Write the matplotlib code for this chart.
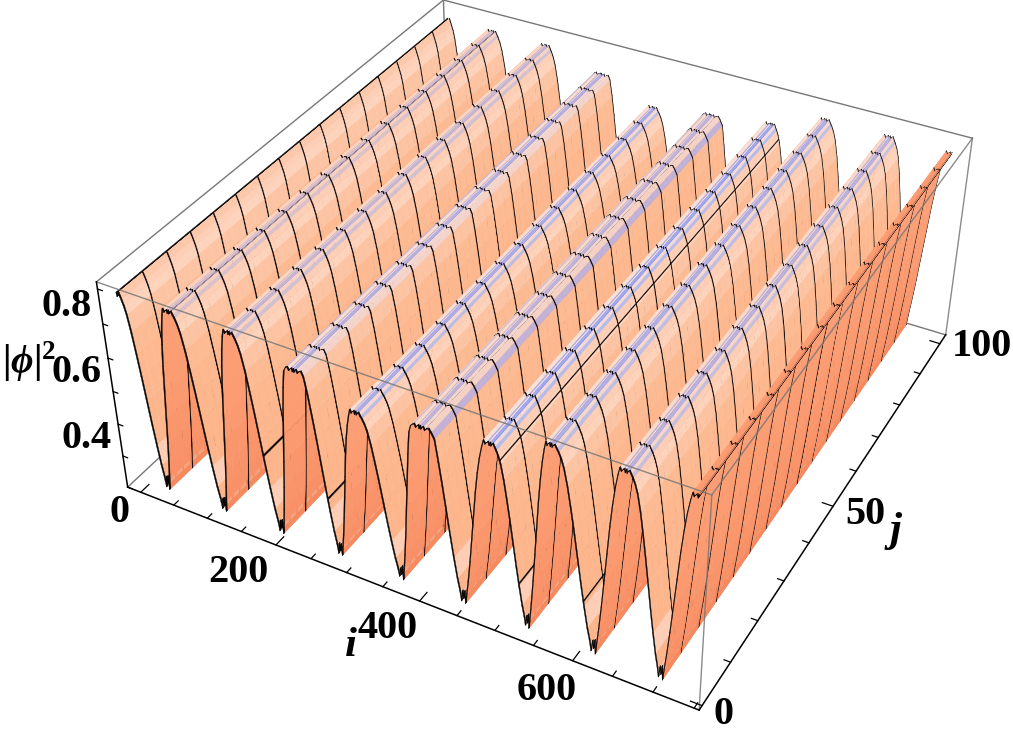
import numpy as np
import matplotlib
matplotlib.use("Agg")
import matplotlib.pyplot as plt
from matplotlib.colors import to_rgb
from mpl_toolkits.mplot3d import Axes3D

W, H = 1013, 739

# surface: ridges along j
peak_i = [0, 73, 157, 242, 322, 406, 494, 568, 656, 739]
valley_i = [38, 122, 205, 288, 372, 455, 538, 622, 705]
peak_z = [.895, .893, .893, .850, .790, .815, .837, .893, .893, .893]
ridge_flat = [1, 1, 1, 1, 0, 1, 0, 1, 1, 1]
valley_z = .345
fall_f = [0, .024, .05, .08, .12, .16, .22, .28, .36, .44, .52, .60, .68, .76, .84, .90, .94, .97]
fall_z = [.895, .883, .892, .891, .886, .876, .860, .837, .790, .730, .665, .595, .525, .460, .400, .365, .335, .368]
rise_g = [0, .03, .06, .10, .16, .24, .32, .40, .48, .56, .64, .72, .78, .84, .89, .94, .97]
rise_z = [.345, .372, .330, .365, .410, .480, .560, .640, .720, .785, .835, .872, .890, .888, .891, .885, .891]
crest_notch = [0, .009, .003]

stripe_colors = ['#a8a8ea', '#f4e6e6', '#7f96ee', '#f3dcd8', '#b4bcf0', '#f8e2d8', '#f1d6d2']
fall_colors = ['#fdc8aa', '#fdc8aa', '#fdc8aa', '#fdc8aa', '#fdc8aa', '#fdcfb6', '#fdd3bc', '#fdc4a4', '#fdbb94',
               '#fdb88f', '#fdb78e', '#fdb68c', '#fdb68c', '#fdcdb6', '#fcb48a', '#fbb188', '#f5c0a8', '#f3c8b0']
rise_colors = ['#f7a27c', '#f58a60', '#f78e64', '#f89068', '#f9946a', '#fa966c', '#fb9a70', '#fb9c72', '#fb9e74',
               '#fb9e76', '#fb9e76', '#fb9e76', '#fb9c72', '#fb9a70', '#fb9a70', '#fb9a70', '#fb9a70']
ridge_stripe = [0.0, 0.5, 0.6, 0.8, 0.9, 0.7, 1.0, 0.85, 0.75, 0.0]

mesh_j = [6.25, 12.5, 18.75, 25, 31.25, 37.5, 43.75, 50, 56.25, 62.5, 68.75, 75, 81.25, 87.5, 93.75]
mesh_i = [0.5, 76, 188, 275, 413, 505, 527, 608, 738]
mesh_i_half = [.5, .6, .2, .2, .6, .25, .2, .2, .6]

i_lim = (-20, 756)
j_lim = (-1, 103)
z_lim = (0.30, 0.92)

i_ticks = [0, 50, 100, 150, 200, 250, 300, 350, 400, 450, 500, 550, 600, 650, 700, 750]
j_ticks = [0, 10, 20, 30, 40, 50, 60, 70, 80, 90, 100]
z_ticks = [0.3, 0.4, 0.5, 0.6, 0.7, 0.8, 0.9]

# pixel positions of the box corners, used for the camera
corner_uvw = [(0, 0, 0), (1, 0, 0), (1, 1, 0), (0, 1, 0), (0, 0, 1), (1, 0, 1), (1, 1, 1), (0, 1, 1)]
corner_px = [(128, 487), (699, 710), (946, 335), (449, 186), (96, 282), (712, 495), (972, 138), (444, 0)]


def fit_camera(uvw, px):
    rows = []
    for (u, v, w), (x, y) in zip(uvw, px):
        rows.append([u, v, w, 1, 0, 0, 0, 0, -x*u, -x*v, -x*w, -x])
        rows.append([0, 0, 0, 0, u, v, w, 1, -y*u, -y*v, -y*w, -y])
    P = np.linalg.svd(np.array(rows, float))[2][-1].reshape(3, 4)
    if P[2] @ np.array([0.5, 0.5, 0.5, 1]) < 0:
        P = -P
    return P


def ridge_cell(z, n, k, base, keep_base=False):
    # cells that reach the ridge top get the flat, striped crest
    top = peak_z[n]
    if not ridge_flat[n]:
        z = valley_z + (z - valley_z)*(top - valley_z)/(.895 - valley_z)
    if z > top - .012:
        if keep_base:
            return top - crest_notch[k % 3], np.array(to_rgb(base))
        plain = np.array(to_rgb('#fdc8aa'))
        c = plain + (np.array(to_rgb(stripe_colors[k % len(stripe_colors)])) - plain)*ridge_stripe[n]
        return top - crest_notch[k % 3], c
    return z, np.array(to_rgb(base))


# build the grid
i_grid = []
z_grid = []
cell_rgb = []
for n in range(len(valley_i)):
    p, v, q = peak_i[n], valley_i[n], peak_i[n+1]
    for k, (f, z) in enumerate(zip(fall_f, fall_z)):
        zz, c = ridge_cell(z, n, k, fall_colors[k])
        i_grid.append(p + f*(v - p))
        z_grid.append(zz)
        cell_rgb.append(c)
    for k, (g, z) in enumerate(zip(rise_g, rise_z)):
        zz, c = ridge_cell(z, n + 1, k, rise_colors[k], keep_base=(n + 1 == len(valley_i)))
        i_grid.append(v + g*(q - v))
        z_grid.append(zz)
        cell_rgb.append(c)
i_grid.append(peak_i[-1])
z_grid.append(peak_z[-1])
i_grid = np.array(i_grid)
z_grid = np.array(z_grid)

j_half = 0.16
i_cuts = list(i_grid)
for m, h in zip(mesh_i, mesh_i_half):
    i_cuts += [max(m - h, 0), min(m + h, peak_i[-1])]
i_all = np.array(sorted(set(i_cuts)))
z_all = np.interp(i_all, i_grid, z_grid)
j_marks = [0.15] + mesh_j + [99.85]
j_cuts = sorted(set(list(np.arange(0, 101, 2.0)) + [m - j_half for m in j_marks] + [m + j_half for m in j_marks]))
j_all = np.array([j for j in j_cuts if 0 <= j <= 100])

X, Y = np.meshgrid(i_all, j_all)
Z = np.tile(z_all, (len(j_all), 1))
fc = np.ones((len(j_all), len(i_all), 4))
for a in range(len(i_all) - 1):
    mid = (i_all[a] + i_all[a+1])/2
    fc[:, a, :3] = cell_rgb[min(np.searchsorted(i_grid, mid) - 1, len(cell_rgb) - 1)]
    for m, h in zip(mesh_i, mesh_i_half):
        if abs(mid - m) < h:
            fc[:, a, :3] = (0.05, 0.03, 0.03)
for b in range(len(j_all) - 1):
    mid = (j_all[b] + j_all[b+1])/2
    if min(abs(mid - m) for m in j_marks) < j_half:
        fc[b, :, :3] = (0.03, 0.02, 0.02)

plt.rcParams['font.family'] = ['Liberation Serif', 'DejaVu Serif']
plt.rcParams['mathtext.fontset'] = 'custom'
plt.rcParams['mathtext.rm'] = 'Liberation Serif:bold'
plt.rcParams['mathtext.it'] = 'Liberation Serif:italic:bold'
plt.rcParams['mathtext.bf'] = 'Liberation Serif:bold'

fig = plt.figure(figsize=(W/100, H/100), dpi=100)
side = W/H
ax = fig.add_axes([0, (1 - side)/2, 1, side], projection='3d', computed_zorder=False)
ax.set_axis_off()

ax.plot_surface(X, Y, Z, facecolors=fc, rstride=1, cstride=1, shade=False, linewidth=0.25,
                antialiased=True, zorder=2)

i0, i1 = i_lim
j0, j1 = j_lim
z0, z1 = z_lim
gray = '#777777'
# back edges sit behind the surface
for xs, ys, zs in [((i0, i0), (j1, j1), (z0, z1)), ((i0, i0), (j0, j1), (z0, z0)), ((i0, i1), (j1, j1), (z0, z0)),
                   ((i0, i0), (j0, j1), (z1, z1)), ((i0, i1), (j1, j1), (z1, z1))]:
    ax.plot(xs, ys, zs, color=gray, lw=1.0, zorder=1)
# front edges
for xs, ys, zs in [((i0, i1), (j0, j0), (z1, z1)), ((i1, i1), (j0, j1), (z1, z1)),
                   ((i1, i1), (j0, j0), (z0, z1)), ((i1, i1), (j1, j1), (z0, z1))]:
    ax.plot(xs, ys, zs, color=gray, lw=1.0, alpha=0.85, zorder=3)
# axes with ticks
ax.plot((i0, i1), (j0, j0), (z0, z0), color='k', lw=1.1, zorder=3)
ax.plot((i1, i1), (j0, j1), (z0, z0), color='k', lw=1.1, zorder=3)
ax.plot((i0, i0), (j0, j0), (z0, z1), color='k', lw=1.1, zorder=3)
for t in i_ticks:
    n = 2.2 if t % 200 == 0 else 1.2
    ax.plot((t, t), (j0, j0 + n), (z0, z0), color='k', lw=0.9, zorder=3)
for t in j_ticks:
    n = 14 if t % 50 == 0 else 8
    ax.plot((i1, i1 - n), (t, t), (z0, z0), color='k', lw=0.9, zorder=3)
for t in z_ticks:
    ax.plot((i0, i0 + 7), (j0, j0), (t, t), color='k', lw=0.9, zorder=3)


def label(x, y, s, size=29, **kw):
    fig.text(x/W, 1 - y/H, s, fontsize=size, ha='center', va='center', fontweight='bold', **kw)


label(67, 307, '0.8')
label(77, 373, '0.6')
label(87, 438, '0.4')
label(119, 512, '0')
label(238, 572, '200')
label(388, 628, '400')
label(547, 690, '600')
label(723, 714, '0')
label(865, 514, '50')
label(982, 347, '100')
label(351, 646, 'i', style='italic', size=31)
label(896, 531, 'j', style='italic', size=31)
label(29, 362, r'$\mathbf{|}\phi\mathbf{|}^{2}$', size=28)

# camera from the box corners, in the 2D coordinates of the axes
ax.apply_aspect()
to_view = ax.transData.inverted()
(vx0, vy0), (vx1, vy1) = to_view.transform([(0, H), (W, 0)])
pixel_to_view = np.array([[(vx1 - vx0)/W, 0, vx0], [0, (vy1 - vy0)/H, vy0], [0, 0, 1.0]])
cam = pixel_to_view @ fit_camera(corner_uvw, corner_px)
to_unit = np.array([[1/(i1 - i0), 0, 0, -i0/(i1 - i0)],
                    [0, 1/(j1 - j0), 0, -j0/(j1 - j0)],
                    [0, 0, 1/(z1 - z0), -z0/(z1 - z0)],
                    [0, 0, 0, 1.0]])
depth_row = 0.5*cam[2] - np.array([0, 0, 0, cam[2] @ np.array([.5, .5, .5, 1])])
M = np.vstack([cam[0], cam[1], depth_row, cam[2]]) @ to_unit
ax.get_proj = lambda: M

fig.savefig('out.png', dpi=100)
